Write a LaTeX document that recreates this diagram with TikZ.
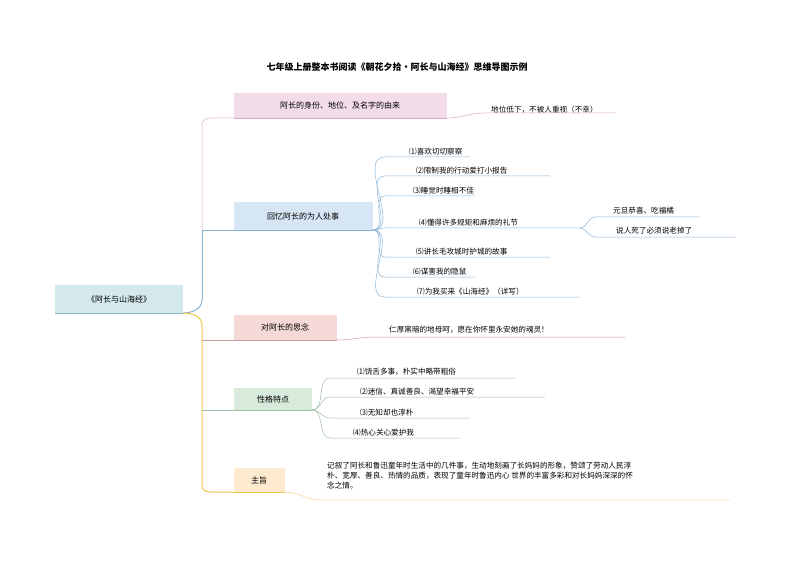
\documentclass[tikz,border=0pt]{standalone}
\usepackage{fontspec}
\setmainfont{Noto Sans CJK SC}
\begin{document}
\begin{tikzpicture}[x=1pt,y=-1pt,
 box/.style={anchor=north west,inner sep=0pt,font=\fontsize{8}{9}\selectfont},
 leaf/.style={anchor=south west,inner sep=1pt,font=\fontsize{7.6}{8.5}\selectfont},
 ln/.style={line width=0.5pt}]
\useasboundingbox (0,0) rectangle (794,561);
\definecolor{cpink}{HTML}{F2DCEA}\definecolor{lpink}{HTML}{D8A8C8}
\definecolor{cblue}{HTML}{D6E6F5}\definecolor{lblue}{HTML}{8AB4D8}
\definecolor{cred}{HTML}{F4D9D6}\definecolor{lred}{HTML}{D09A98}
\definecolor{cgreen}{HTML}{D8EADB}\definecolor{lgreen}{HTML}{9DBFA5}
\definecolor{corange}{HTML}{FDEACF}\definecolor{lyellow}{HTML}{EFC64E}
\definecolor{cteal}{HTML}{D3E9EC}\definecolor{lteal}{HTML}{86B9C2}
\node[font=\bfseries\fontsize{9}{10}\selectfont] (title) at (397,67) {七年级上册整本书阅读《朝花夕拾·阿长与山海经》思维导图示例};
% root
\fill[cteal] (55,285) rectangle (183,313);
\draw[lteal,line width=1pt] (55,313) -- (183,313);
\node[box,anchor=center] (root) at (119,299) {《阿长与山海经》};
% boxes
\fill[cpink] (234,93) rectangle (447,118); \draw[lpink,ln] (234,118)--(447,118);
\node[box,anchor=center] (b1) at (340,105) {阿长的身份、地位、及名字的由来};
\fill[cblue] (234,202) rectangle (373,230); \draw[lblue,ln] (234,230)--(373,230);
\node[box,anchor=center] (b2) at (303,216) {回忆阿长的为人处事};
\fill[cred] (234,315) rectangle (337,340); \draw[lred,ln] (234,340)--(337,340);
\node[box,anchor=center] (b3) at (285,327) {对阿长的思念};
\fill[cgreen] (234,388) rectangle (312,410); \draw[lgreen,ln] (234,410)--(312,410);
\node[box,anchor=center] (b4) at (273,399) {性格特点};
\fill[corange] (234,468) rectangle (285,492); \draw[lyellow,ln] (234,492)--(285,492);
\node[box,anchor=center] (b5) at (259,480) {主旨};
% trunk
\coordinate (rt) at (183,313);
\draw[lpink,ln] (202,300) -- (202,125) to[out=90,in=180] (210,118) -- (234,118);
\draw[lblue,ln] (202,300) -- (202,230) -- (234,230);
\draw[lblue,line width=1pt] (rt) to[out=0,in=270] (202,300);
\draw[lyellow,line width=1pt] (rt) to[out=0,in=90] (202,325) -- (202,486) to[out=270,in=180] (210,492) -- (234,492);
\draw[lred,ln] (202,340) -- (234,340);
\draw[lgreen,ln] (202,410) -- (234,410);
% branch1 leaf
\node[leaf] (l1) at (490,115) {地位低下，不被人重视（不幸）};
\draw[lpink,ln] (447,118) to[out=0,in=180] (485,113) -- (615,113);
% branch2 leaves
\coordinate (s2) at (373,230);
\foreach \n/\y/\x/\e/\t in {a/157/408/470/{⑴喜欢切切察察},b/176/415/550/{⑵限制我的行动爱打小报告},c/196/412/475/{⑶睡觉时睡相不佳},d/228/418/580/{⑷懂得许多规矩和麻烦的礼节},e/257/415/550/{⑸讲长毛攻城时护城的故事},f/277/412/475/{⑹谋害我的隐鼠},g/297/416/580/{⑺为我买来《山海经》（详写）}}{
 \node[leaf] (l2\n) at (\x,\y-1) {\t};
 \draw[lblue,ln] (s2) to[out=0,in=180] (385,\y) -- (\e,\y);
}
\coordinate (s4) at (580,228);
\node[leaf] (l2d1) at (612,215) {元旦恭喜、吃福橘};
\node[leaf] (l2d2) at (615,235) {说人死了必须说老掉了};
\draw[lblue,ln] (s4) to[out=0,in=180] (595,217) -- (700,217);
\draw[lblue,ln] (s4) to[out=0,in=180] (595,237) -- (735,237);
% branch3
\node[leaf] (l3) at (388,335) {仁厚黑暗的地母呵，愿在你怀里永安她的魂灵！};
\draw[lred,ln] (337,340) to[out=0,in=180] (375,337) -- (625,337);
% branch4
\coordinate (s5) at (312,410);
\foreach \n/\y/\x/\e/\t in {a/378/356/515/{⑴饶舌多事，朴实中略带粗俗},b/397/359/545/{⑵迷信、真诚善良、渴望幸福平安},c/418/359/470/{⑶无知却也淳朴},d/438/352/460/{⑷热心关心爱护我}}{
 \node[leaf] (l4\n) at (\x,\y-1) {\t};
 \draw[lgreen,ln] (s5) to[out=0,in=180] (330,\y) -- (\e,\y);
}
% branch5
\node[anchor=north west,inner sep=0pt,align=left,font=\fontsize{7.6}{10}\selectfont] (l5) at (327,462) {记叙了阿长和鲁迅童年时生活中的几件事，生动地刻画了长妈妈的形象，赞颂了劳动人民淳\\朴、宽厚、善良、热情的品质，表现了童年时鲁迅内心 世界的丰富多彩和对长妈妈深深的怀\\念之情。};
\draw[lyellow!70,ln] (285,492) to[out=0,in=180] (320,500) -- (730,500);
\end{tikzpicture}
\end{document}
